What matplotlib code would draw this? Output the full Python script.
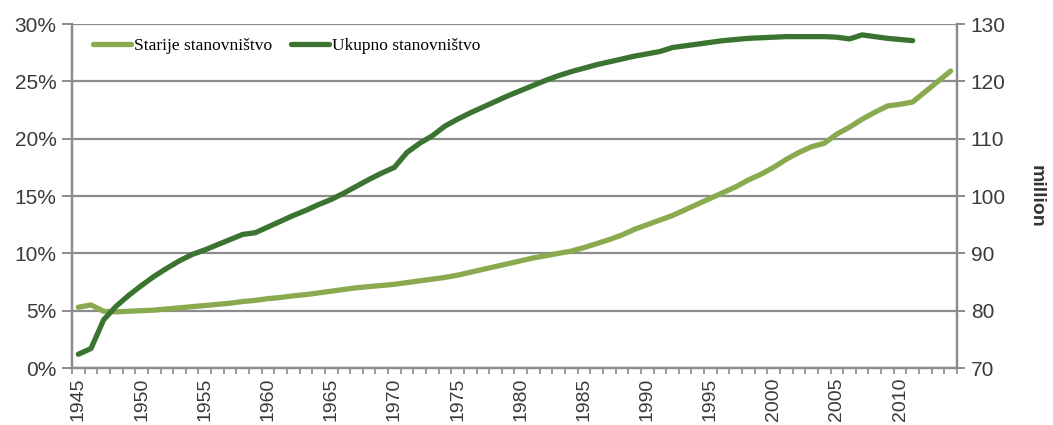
import numpy as np
import matplotlib as mpl
import matplotlib.pyplot as plt

# data
years = list(range(1945, 2015))

# share of elderly population, % (left axis)
starije = [5.3, 5.5, 4.95, 4.9, 4.95, 5.0, 5.05, 5.15, 5.25, 5.35,
           5.45, 5.55, 5.65, 5.8, 5.9, 6.05, 6.15, 6.3, 6.4, 6.55,
           6.7, 6.85, 7.0, 7.1, 7.2, 7.3, 7.45, 7.6, 7.75, 7.9,
           8.1, 8.35, 8.6, 8.85, 9.1, 9.35, 9.6, 9.8, 10.0, 10.2,
           10.5, 10.85, 11.2, 11.6, 12.1, 12.5, 12.9, 13.3, 13.8, 14.3,
           14.8, 15.3, 15.8, 16.4, 16.9, 17.5, 18.2, 18.8, 19.3, 19.6,
           20.4, 21.0, 21.7, 22.3, 22.85, 23.0, 23.2, 24.1, 25.0, 25.9]

# total population, million (right axis), 1945-2011
ukupno_years = list(range(1945, 2012))
ukupno = [72.4, 73.4, 78.4, 80.8, 82.7, 84.4, 86.0, 87.4, 88.7, 89.8,
          90.6, 91.5, 92.4, 93.3, 93.6, 94.6, 95.6, 96.6, 97.5, 98.5,
          99.4, 100.5, 101.7, 102.9, 104.0, 105.0, 107.6, 109.2, 110.5, 112.2,
          113.4, 114.5, 115.5, 116.5, 117.5, 118.4, 119.3, 120.2, 121.0, 121.7,
          122.3, 122.9, 123.4, 123.9, 124.4, 124.8, 125.2, 125.9, 126.2, 126.5,
          126.8, 127.1, 127.3, 127.5, 127.6, 127.7, 127.8, 127.8, 127.8, 127.8,
          127.7, 127.4, 128.1, 127.8, 127.5, 127.3, 127.1]

label_years = list(range(1945, 2015, 5))
pct_ticks = [0, 5, 10, 15, 20, 25, 30]
mil_ticks = [70, 80, 90, 100, 110, 120, 130]

light = '#8aaa50'
dark = '#3b7430'
grid_col = '#8c8c8c'
txt_col = '#3a3a3a'

mpl.rcParams['font.family'] = 'Liberation Sans'

fig = plt.figure(figsize=(10.53, 4.25), dpi=100)
ax = fig.add_axes([0.0684, 0.1341, 0.8404, 0.8094])
ax2 = ax.twinx()

l1, = ax.plot(years, starije, color=light, lw=3.8, solid_capstyle='round',
              label='Starije stanovništvo')
l2, = ax2.plot(ukupno_years, ukupno, color=dark, lw=3.8, solid_capstyle='round',
               label='Ukupno stanovništvo')

ax.set_xlim(1944.5, 2014.5)
ax.set_ylim(0, 30)
ax2.set_ylim(70, 130)

ax.set_yticks(pct_ticks)
ax.set_yticklabels(['%d%%' % p for p in pct_ticks])
ax2.set_yticks(mil_ticks)
ax.yaxis.grid(True, color=grid_col, lw=1.6)
ax.set_axisbelow(True)

ax.set_xticks(label_years)
ax.set_xticklabels([str(y) for y in label_years], rotation=90)
ax.set_xticks(np.arange(1944.5, 2015, 1), minor=True)
ax.tick_params(axis='x', which='major', length=0, pad=7, labelsize=14,
               labelcolor=txt_col)
ax.tick_params(axis='x', which='minor', length=4, width=1.2, color=grid_col)
ax.tick_params(axis='y', length=7, width=1.4, color=grid_col, labelsize=15,
               labelcolor=txt_col, pad=4)
ax2.tick_params(axis='y', length=6, width=1.4, color=grid_col, labelsize=15,
                labelcolor=txt_col, pad=4)

for a in (ax, ax2):
    for s in a.spines.values():
        s.set_color(grid_col)
        s.set_linewidth(1.6)
    a.spines['top'].set_visible(False)

ax2.set_ylabel('million', rotation=270, fontsize=14, fontweight='bold',
               color='#333333', labelpad=28)

ax2.legend([l1, l2], ['Starije stanovništvo', 'Ukupno stanovništvo'],
           loc='center left', bbox_to_anchor=(0.014, 0.936), ncol=2,
           frameon=False, borderpad=0, handlelength=2.2, handletextpad=0.15,
           columnspacing=1.1, prop={'family': 'Liberation Serif', 'size': 12.5})

fig.savefig('out.png', dpi=100)
